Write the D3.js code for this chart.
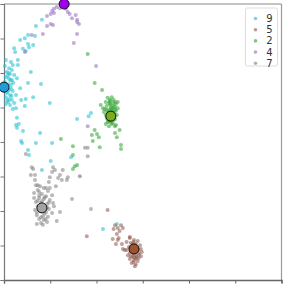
<!DOCTYPE html>
<html>
<head>
<meta charset="utf-8">
<script src="https://d3js.org/d3.v7.min.js"></script>
<style>
  body { margin: 0; background: #fff; }
  svg { display: block; }
</style>
</head>
<body>
<div id="chart"></div>
<script>
// class labels, in legend order
var labels = ["9", "5", "2", "4", "7"];
var pointColors = ["#17becf", "#8c564b", "#2ca02c", "#9467bd", "#7f7f7f"];
var centroidColors = ["#1f9ddb", "#a0522d", "#7aad1e", "#a000f0", "#a3a3a3"];

var xTicks = [-3, -2, -1, 0, 1, 2, 3];
var yTicks = [-4, -3, -2, -1, 0, 1, 2, 3, 4];

var pts9 = [[-2.31,3.36],[-2.18,3.54],[-2.33,3.07],[-2.48,3.10],[-2.37,2.81],[-2.48,2.84],[-2.78,2.72],[-2.76,2.61],
  [-2.59,2.70],[-2.53,2.64],[-2.46,2.75],[-2.70,2.38],[-2.85,2.32],[-2.81,2.23],[-2.89,2.14],[-2.83,2.09],[-2.94,2.03],
  [-2.87,1.97],[-2.78,1.94],[-2.96,1.88],[-2.89,1.83],[-2.83,1.80],[-2.98,1.74],[-2.91,1.68],[-2.85,1.65],[-2.96,1.56],
  [-2.89,1.51],[-2.81,1.48],[-2.94,1.42],[-2.87,1.36],[-2.96,1.30],[-2.89,1.25],[-2.83,1.22],[-2.91,1.16],[-2.78,1.13],
  [-2.87,1.07],[-2.70,2.23],[-2.65,1.56],[-2.74,1.36],[-2.72,1.85],[-2.42,2.03],[-2.48,1.71],[-2.20,1.68],[-2.63,1.22],
  [-2.53,1.25],[-2.37,1.30],[-2.55,1.04],[-2.74,0.98],[-2.81,0.96],[-2.01,1.13],[-2.72,0.70],[-2.74,0.49],[-2.68,0.52],
  [-2.72,0.41],[-2.59,0.32],[-2.22,0.26],[-1.42,0.67],[-1.17,0.75],[-1.12,0.84],[-2.63,0.03],[-2.61,-0.03],[-2.31,-0.03],
  [-1.96,-0.03],[-2.48,-0.23],[-2.46,-0.38],[-1.99,-0.55],[-2.18,-0.81],[-1.55,-0.44],[-0.56,-2.38],[-0.86,-2.52],
  [-2.65,2.96],[-2.55,3.01],[-2.96,2.38],[-2.98,2.20],
  [-2.92,1.92],[-2.86,1.78],[-2.94,1.60],[-2.85,1.55],[-2.92,1.46],[-2.84,1.33],[-2.93,1.20],[-2.80,1.72],
  [-2.90,2.00],[-2.96,1.10]];

var pts5 = [[-1.36,-0.99],[-0.76,-1.97],[-1.21,-2.73],[-0.60,-2.41],[-0.54,-2.49],[-0.47,-2.41],[-0.43,-2.49],[-0.50,-2.58],
  [-0.63,-2.52],[-0.56,-2.67],[-0.65,-2.81],[-0.54,-2.84],[-0.45,-2.96],[-0.43,-3.10],[-0.39,-3.13],[-0.35,-2.90],
  [-0.28,-2.75],[-0.52,-2.78],[-0.58,-2.96],
  [-0.28,-2.78],[-0.19,-2.84],[-0.11,-2.87],[-0.26,-2.93],[-0.15,-2.96],[-0.06,-2.99],[-0.30,-3.04],[-0.22,-3.04],
  [-0.13,-3.07],[-0.04,-3.10],[-0.26,-3.16],[-0.17,-3.19],[-0.09,-3.22],[-0.32,-3.28],[-0.22,-3.31],[-0.13,-3.33],
  [-0.04,-3.31],[-0.28,-3.39],[-0.19,-3.42],[-0.11,-3.45],[-0.24,-3.51],[-0.15,-3.54],[-0.17,-3.60],[-0.02,-3.19],
  [-0.35,-3.13],[-0.09,-3.36],[-0.22,-2.96],[-0.15,-3.28],
  [-0.20,-2.90],[-0.17,-3.00],[-0.24,-3.10],[-0.13,-3.15],[-0.20,-3.24],[-0.08,-3.26],[-0.26,-3.32],[-0.15,-3.38],
  [-0.20,-3.48],[-0.10,-3.12],[-0.28,-3.22],[-0.19,-3.35]];

var pts2 = [[-1.19,2.55],[-1.04,1.71],[-0.88,1.51],[-0.91,1.07],[-0.86,0.98],[-0.78,0.70],[-0.76,0.58],[-0.60,0.46],
  [-0.50,0.35],[-0.60,0.26],[-0.56,0.14],[-1.04,0.35],[-0.99,0.23],[-0.95,0.14],[-1.10,0.20],[-1.08,0.03],[-1.77,0.09],
  [-1.51,-0.12],[-0.93,-0.15],[-0.47,-0.09],[-0.47,-0.20],[-1.51,-0.38],[-1.47,-0.70],[-1.42,-0.67],[-1.51,-0.78],
  [-0.76,1.28],[-0.67,1.30],[-0.71,1.22],[-0.63,1.22],[-0.80,1.16],[-0.73,1.13],[-0.65,1.13],[-0.58,1.10],[-0.78,1.04],
  [-0.69,1.04],[-0.60,1.01],[-0.54,0.98],[-0.82,0.96],[-0.73,0.93],[-0.67,0.93],[-0.58,0.90],[-0.76,0.84],[-0.63,0.84],
  [-0.80,0.78],[-0.71,0.75],[-0.56,0.78],[-0.67,0.70],[-0.76,0.67],[-0.60,0.67],[-0.71,0.58],[-0.65,0.55],[-0.80,0.52],
  [-0.73,0.46],[-0.58,0.49],[-0.84,0.87],[-0.54,1.16],[-0.69,0.84],[-0.65,0.98],[-0.78,0.93],[-0.69,0.64],
  [-0.71,1.10],[-0.63,1.04],[-0.69,0.98],[-0.60,0.93],[-0.74,0.87],[-0.65,0.87],[-0.71,0.81],[-0.62,0.78],
  [-0.69,0.72],[-0.63,0.64],[-0.74,0.61],[-0.67,0.52],[-0.71,1.19],[-0.60,1.16]];

var pts4 = [[-1.96,3.80],[-1.92,3.74],[-1.99,3.71],[-1.86,3.91],[-1.92,3.86],[-1.62,3.77],[-1.53,3.59],[-1.45,3.68],
  [-1.42,3.54],[-1.38,3.42],[-1.42,3.48],[-1.99,3.42],[-2.07,3.36],[-1.94,3.39],[-2.16,3.13],[-2.40,3.10],[-1.42,3.13],
  [-1.49,2.87],[-2.55,2.61],[-1.01,2.20],[-1.19,0.46],[-2.07,3.65],[-1.79,3.88],[-1.66,3.86],[-1.58,3.71]];

var pts7 = [[-1.25,-0.17],[-1.19,-0.17],[-1.19,-0.41],[-2.53,-0.35],[-2.40,-0.73],[-2.37,-0.78],[-2.42,-0.96],[-2.33,-0.96],
  [-1.94,-0.73],[-1.90,-0.81],[-1.73,-0.81],[-1.79,-0.96],[-1.83,-1.04],[-2.01,-1.02],[-1.75,-1.10],[-1.62,-1.02],
  [-1.64,-1.10],[-1.53,-1.65],[-1.79,-2.03],[-1.86,-2.29],[-1.12,-1.94],[-2.03,-1.16],[-1.96,-0.87],[-2.33,-1.10],
  [-2.27,-1.25],[-2.09,-1.33],[-1.88,-1.28],
  [-2.31,-1.25],[-2.22,-1.28],[-2.14,-1.33],[-2.27,-1.39],[-2.05,-1.42],[-2.35,-1.48],[-2.18,-1.51],[-2.09,-1.57],
  [-1.96,-1.54],[-2.24,-1.62],[-2.14,-1.65],[-2.01,-1.68],[-2.31,-1.74],[-2.20,-1.77],[-2.07,-1.80],[-1.94,-1.77],
  [-2.27,-1.86],[-2.12,-1.88],[-2.03,-1.94],[-2.33,-1.97],[-2.22,-2.00],[-2.09,-2.03],[-1.96,-2.06],[-2.29,-2.12],
  [-2.16,-2.15],[-2.05,-2.17],[-2.24,-2.23],[-2.14,-2.26],[-2.20,-2.35],[-2.07,-2.32],[-2.29,-2.38],[-1.92,-1.86],
  [-2.35,-1.62],[-2.01,-1.33],[-2.16,-1.97],
  [-2.24,-1.45],[-2.12,-1.60],[-2.27,-1.70],[-2.16,-1.84],[-2.07,-1.90],[-2.24,-1.94],[-2.12,-2.08],[-2.20,-2.18],
  [-2.18,-1.72],[-2.03,-1.75],[-2.29,-2.04],[-2.10,-2.23],[-2.16,-2.40],[-2.24,-1.55]];

// cluster centres, same order as labels
var centroids = [[-3.00,1.59],[-0.19,-3.10],[-0.69,0.75],[-1.70,4.00],[-2.18,-1.91]];

var groups = [pts9, pts5, pts2, pts4, pts7];

var margin = {top: 4, right: 4.5, bottom: 4, left: 4},
    width = 286 - margin.left - margin.right,
    height = 284 - margin.top - margin.bottom;

var svg = d3.select("#chart").append("svg")
    .attr("width", 286)
    .attr("height", 284)
    .append("g")
    .attr("transform", "translate(" + margin.left + "," + margin.top + ")");

var x = d3.scaleLinear().domain([-3, 3]).range([0, width]);
var y = d3.scaleLinear().domain([-4, 4]).range([height, 0]);

// frame
svg.append("line").attr("x1", 0).attr("x2", width).attr("y1", 0).attr("y2", 0)
    .attr("stroke", "#8a8a8a").attr("stroke-width", 1.2);
svg.append("line").attr("x1", width).attr("x2", width).attr("y1", 0).attr("y2", height)
    .attr("stroke", "#9a9a9a").attr("stroke-width", 1.2);

// tick labels fall outside the cropped picture, so none are drawn
svg.append("g")
    .attr("transform", "translate(0," + height + ")")
    .call(d3.axisBottom(x).tickValues(xTicks).tickSize(3.5).tickFormat(""))
    .call(function(g) {
        g.select(".domain").attr("stroke", "#666").attr("stroke-width", 1.4);
        g.selectAll(".tick line").attr("stroke", "#666");
    });

svg.append("g")
    .call(d3.axisLeft(y).tickValues(yTicks).tickSize(3.5).tickFormat(""))
    .call(function(g) {
        g.select(".domain").attr("stroke", "#777").attr("stroke-width", 1.2);
        g.selectAll(".tick line").attr("stroke", "#777");
    });

// points
groups.forEach(function(pts, i) {
    svg.append("g").selectAll("circle")
        .data(pts)
        .enter().append("circle")
        .attr("cx", function(d) { return x(d[0]); })
        .attr("cy", function(d) { return y(d[1]); })
        .attr("r", 2)
        .attr("fill", pointColors[i])
        .attr("fill-opacity", 0.55);
});

// centroids
svg.append("g").selectAll("circle")
    .data(centroids)
    .enter().append("circle")
    .attr("cx", function(d) { return x(d[0]); })
    .attr("cy", function(d) { return y(d[1]); })
    .attr("r", 5)
    .attr("fill", function(d, i) { return centroidColors[i]; })
    .attr("stroke", "#111")
    .attr("stroke-width", 1);

// legend
var legend = svg.append("g").attr("transform", "translate(" + (width - 36) + ",4)");
legend.append("rect")
    .attr("width", 32).attr("height", 58).attr("rx", 2)
    .attr("fill", "#fff").attr("fill-opacity", 0.8)
    .attr("stroke", "#ddd");
labels.forEach(function(l, i) {
    legend.append("circle")
        .attr("cx", 10).attr("cy", 10.5 + i * 11.2).attr("r", 1.8)
        .attr("fill", pointColors[i]).attr("fill-opacity", 0.6);
    legend.append("text")
        .attr("x", 27).attr("y", 10.5 + i * 11.2).attr("dy", "0.35em")
        .attr("text-anchor", "end")
        .attr("font-family", "DejaVu Sans, sans-serif")
        .attr("font-size", 10).attr("fill", "#333")
        .text(l);
});
</script>
</body>
</html>
